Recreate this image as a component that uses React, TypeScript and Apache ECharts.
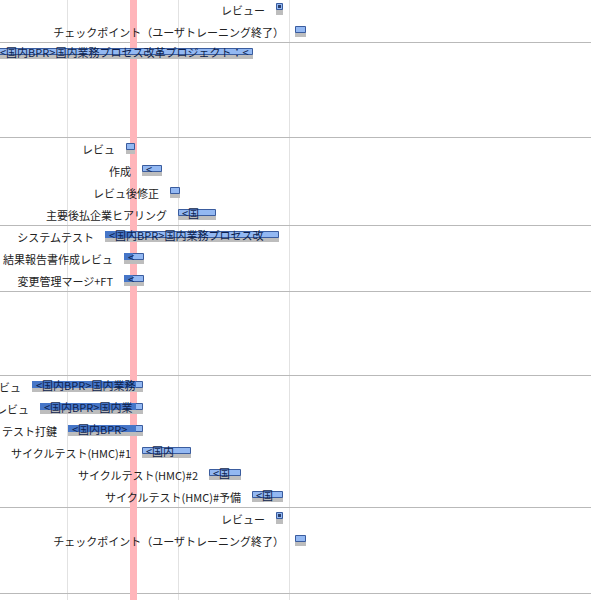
import React, { useEffect, useRef } from "react";
import * as echarts from "echarts";

// ---------- data ----------
const taskLabels = [
  "レビュー",
  "チェックポイント（ユーザトレーニング終了）",
  "",
  "レビュ",
  "作成",
  "レビュ後修正",
  "主要後払企業ヒアリング",
  "システムテスト",
  "結果報告書作成レビュ",
  "変更管理マージ+FT",
  "ビュ",
  "レビュ",
  "テスト打鍵",
  "サイクルテスト(HMC)#1",
  "サイクルテスト(HMC)#2",
  "サイクルテスト(HMC)#予備",
  "レビュー",
  "チェックポイント（ユーザトレーニング終了）",
];
const taskKinds = [
  "milestone", "checkpoint", "bar", "bar", "bar", "bar", "bar", "bar", "bar",
  "bar", "bar", "bar", "bar", "bar", "bar", "bar", "milestone", "checkpoint",
];
const taskSections = [0, 0, 1, 2, 2, 2, 2, 3, 3, 3, 5, 5, 5, 5, 5, 5, 6, 6];
// day values
const taskStarts = [75.3, 79.7, -12, 34.0, 38.5, 45.9, 48.1, 28.4, 33.5, 33.5, 8.6, 10.8, 18.5, 38.5, 56.6, 68.2, 75.3, 79.7];
const taskEnds = [75.3, 82.7, 68.4, 36.6, 43.9, 48.6, 58.3, 75.4, 38.9, 38.9, 38.7, 38.7, 38.7, 51.5, 65.0, 76.4, 75.3, 82.7];
const taskProgress = [0, 0, 0, 0, 0, 0, 0, 35.9, 35.9, 35.9, 36.7, 36.7, 36.7, 0, 0, 0, 0, 0];
const taskCaptions = [
  "", "", "<国内BPR>国内業務プロセス改革プロジェクト：<", "", "<", "", "<国",
  "<国内BPR>国内業務プロセス改", "<", "<", "<国内BPR>国内業務", "<国内BPR>国内業",
  "<国内BPR>", "<国内", "<国", "<国", "", "",
];
const gridDays = [18, 48, 78];
const today = 36.1;

// ---------- layout ----------
const W = 591;
const H = 600;
const X_MAX = 159.7;
const SECTION_TOP = -2;
const SECTION_HEIGHTS = [44, 95, 88, 66, 84, 132, 86];
const ROW_H = 22;
const FONT = '"Noto Sans CJK JP", "Noto Sans", sans-serif';

function sectionTop(s: number) {
  let t = SECTION_TOP;
  for (let i = 0; i < s; i++) t += SECTION_HEIGHTS[i];
  return t;
}
function rowCenter(i: number) {
  const s = taskSections[i];
  let k = 0;
  for (let j = 0; j < i; j++) if (taskSections[j] === s) k++;
  return sectionTop(s) + ROW_H / 2 + ROW_H * k;
}
const separators = SECTION_HEIGHTS.map((_, s) => sectionTop(s + 1));

const C_LIGHT = "#93b8f2";
const C_DARK = "#4676c8";
const C_BORDER = "#3a5c9e";
const C_SHADOW = "#bdbdbd";

export default function App() {
  const ref = useRef<HTMLDivElement>(null);
  useEffect(() => {
    document.body.style.margin = "0";
    const chart = echarts.init(ref.current!, null, { renderer: "svg" });
    const option: any = {
      animation: false,
      grid: { left: 0, right: 0, top: 0, bottom: 0 },
      xAxis: { type: "value", min: 0, max: X_MAX, show: false },
      yAxis: { type: "value", min: 0, max: H, inverse: true, show: false },
      series: [
        {
          type: "custom",
          z: 1,
          silent: true,
          clip: false,
          data: gridDays.map((d) => [d]),
          renderItem: (_p: any, api: any) => {
            const x = Math.round(api.coord([api.value(0), 0])[0]) + 0.5;
            return {
              type: "line",
              shape: { x1: x, y1: 0, x2: x, y2: H },
              style: { stroke: "#e2e2e2", lineWidth: 1 },
            };
          },
        },
        {
          type: "custom",
          z: 2,
          silent: true,
          clip: false,
          data: separators.map((y) => [0, y]),
          renderItem: (_p: any, api: any) => {
            const y = Math.round(api.coord([0, api.value(1)])[1]) + 0.5;
            return {
              type: "line",
              shape: { x1: 0, y1: y, x2: W, y2: y },
              style: { stroke: "#b9b9b9", lineWidth: 1 },
            };
          },
        },
        {
          type: "custom",
          z: 3,
          silent: true,
          clip: false,
          data: [[today]],
          renderItem: (_p: any, api: any) => {
            const x = api.coord([api.value(0), 0])[0];
            return {
              type: "rect",
              shape: { x: Math.round(x - 3.5), y: 0, width: 7, height: H },
              style: { fill: "#ffb5ba" },
            };
          },
        },
        {
          type: "custom",
          z: 4,
          silent: true,
          clip: false,
          data: taskLabels.map((_, i) => [i]),
          renderItem: (params: any, api: any) => {
            const i = params.dataIndex;
            const c = rowCenter(i);
            const kind = taskKinds[i];
            const x0 = Math.round(api.coord([taskStarts[i], c])[0]);
            const x1 = Math.round(api.coord([taskEnds[i], c])[0]);
            const cy = Math.round(api.coord([0, c])[1]);
            const children: any[] = [];
            let left = x0;
            if (kind === "milestone") {
              left = x0 - 3;
              children.push({
                type: "rect",
                shape: { x: x0 - 3, y: cy - 2, width: 7, height: 8 },
                style: { fill: C_SHADOW },
              });
              children.push({
                type: "rect",
                shape: { x: x0 - 3 + 0.5, y: cy - 5.5, width: 6, height: 6 },
                style: { fill: C_LIGHT, stroke: C_BORDER, lineWidth: 1 },
              });
              children.push({
                type: "rect",
                shape: { x: x0 - 1, y: cy - 4, width: 3, height: 3 },
                style: { fill: "#2b3f6b" },
              });
            } else {
              const w = x1 - x0;
              children.push({
                type: "rect",
                shape: { x: x0, y: cy - 1, width: w, height: 7 },
                style: { fill: C_SHADOW },
              });
              children.push({
                type: "rect",
                shape: { x: x0 + 0.5, y: cy - 4.5, width: w - 1, height: 6 },
                style: { fill: C_LIGHT, stroke: C_BORDER, lineWidth: 1 },
              });
              if (taskProgress[i] > 0) {
                const xp = Math.round(api.coord([taskProgress[i], c])[0]);
                children.push({
                  type: "rect",
                  shape: { x: x0, y: cy - 5, width: xp - x0, height: 7 },
                  style: { fill: C_DARK },
                });
              }
              if (taskCaptions[i]) {
                children.push({
                  type: "text",
                  x: Math.max(x0 + 4, 0),
                  y: cy - 1,
                  style: {
                    text: taskCaptions[i],
                    fill: "#0d1f4e",
                    fontSize: 11,
                    fontFamily: FONT,
                    align: "left",
                    verticalAlign: "middle",
                  },
                });
              }
            }
            if (taskLabels[i]) {
              children.push({
                type: "text",
                x: left - 11,
                y: cy + 1,
                style: {
                  text: taskLabels[i],
                  fill: "#222222",
                  fontSize: 11,
                  fontFamily: FONT,
                  align: "right",
                  verticalAlign: "middle",
                },
              });
            }
            return { type: "group", children };
          },
        },
      ],
    };
    chart.setOption(option);
    return () => chart.dispose();
  }, []);
  return (
    <div
      ref={ref}
      style={{ position: "absolute", left: 0, top: 0, width: W, height: H }}
    />
  );
}
